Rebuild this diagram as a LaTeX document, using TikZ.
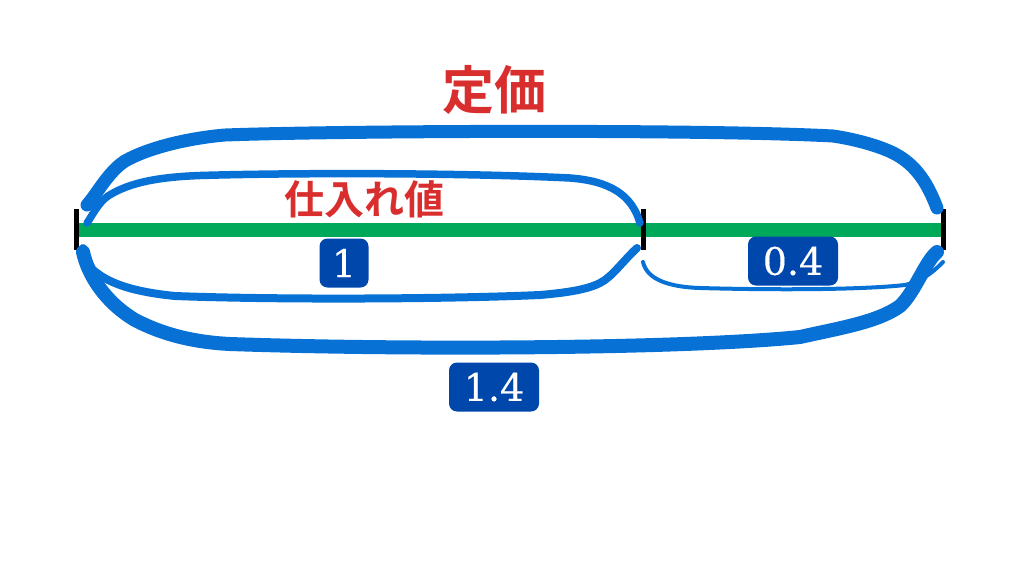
\documentclass[tikz,border=0pt]{standalone}
\usepackage{fontspec}
\newfontfamily\jpfont{Noto Sans CJK JP}[BoldFont={* Bold}]
\newfontfamily\numfont{DejaVu Serif}[FakeBold=0.35]
\definecolor{barblue}{HTML}{0771D6}
\definecolor{bargreen}{HTML}{00A85A}
\definecolor{tagblue}{HTML}{0047AB}
\definecolor{labelred}{HTML}{D92E2E}
\tikzset{
  tick/.style={line width=5pt, black},
  brace/.style={barblue, line cap=round, line width=#1},
  tag/.style={fill=tagblue, text=white, rounded corners=8pt, font=\numfont\fontsize{38}{38}\selectfont,
    minimum height=49pt, inner sep=0pt},
  title/.style={text=labelred, inner sep=0pt, font=\jpfont\bfseries\fontsize{#1}{#1}\selectfont},
}
\begin{document}
\begin{tikzpicture}[x=1pt, y=-1pt]
    \useasboundingbox (0,0) rectangle (1024,576);

    \coordinate (Lt) at (76,209);
    \coordinate (Lb) at (76,250);
    \coordinate (Mt) at (643.5,209);
    \coordinate (Mb) at (643.5,250);
    \coordinate (Rt) at (943,209);
    \coordinate (Rb) at (943,250);
    \coordinate (L)  at (76,230);
    \coordinate (M)  at (643.5,230);
    \coordinate (R)  at (943,230);

    \draw[bargreen, line width=14pt] (L) -- (R);
    \draw[tick] (Lt) -- (Lb);
    \draw[tick] (Mt) -- (Mb);
    \draw[tick] (Rt) -- (Rb);

    \coordinate (oa) at (87,205);
    \coordinate (ob) at (937,208);
    \coordinate (pa) at (87,223);
    \coordinate (pb) at (640,223);
    \coordinate (qa) at (83,248);
    \coordinate (qb) at (637,248);
    \coordinate (ra) at (83,252);
    \coordinate (rb) at (937,252);
    \coordinate (sa) at (643,262);
    \coordinate (sb) at (943,262);

    \draw[brace=13pt] (oa) .. controls (97,194) and (108,172) .. (125,161)
        .. controls (150,147) and (190,138) .. (225,135)
        .. controls (330,131) and (700,129) .. (833,136)
        .. controls (860,140) and (885,148) .. (897,155)
        .. controls (920,168) and (930,190) .. (ob);
    \draw[brace=7.5pt] (pa) .. controls (92,216) and (98,203) .. (108,196)
        .. controls (130,182) and (160,177) .. (200,175.5)
        .. controls (300,172.5) and (470,173) .. (570,178)
        .. controls (610,181) and (632,195) .. (pb);
    \draw[brace=8pt] (qa) .. controls (88,258) and (88,268) .. (97,273)
        .. controls (115,287) and (145,293) .. (175,296)
        .. controls (280,300) and (450,299) .. (540,295)
        .. controls (575,292) and (590,288) .. (600,283)
        .. controls (612,277) and (622,262) .. (qb);
    \draw[brace=14pt] (ra) .. controls (88,275) and (105,302) .. (135,320)
        .. controls (160,333) and (190,342) .. (230,344)
        .. controls (400,350) and (680,349) .. (800,337)
        .. controls (840,328) and (878,322) .. (900,306)
        .. controls (915,292) and (925,262) .. (rb);
    \draw[brace=4pt] (sa) .. controls (647,280) and (670,287) .. (700,288)
        .. controls (770,290) and (860,290) .. (905,285)
        .. controls (925,280) and (935,270) .. (sb);

    \node[title=52] (price) at (494,90)  {定価};
    \node[title=40] (cost)  at (364,199) {仕入れ値};
    \node[tag, minimum width=49pt] (one)  at (344,263) {1};
    \node[tag, minimum width=90pt] (part) at (793,261) {0.4};
    \node[tag, minimum width=90pt] (all)  at (494,387) {1.4};
\end{tikzpicture}
\end{document}
